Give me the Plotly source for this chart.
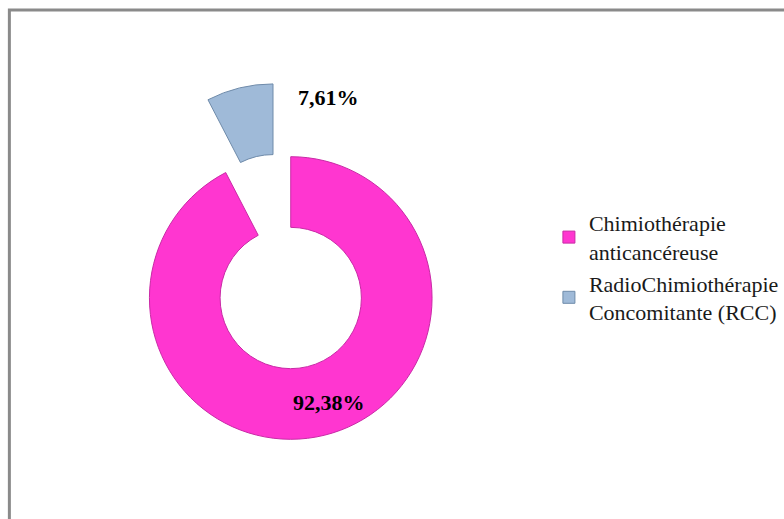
import plotly.graph_objects as go

# Treatment categories and their shares (%)
labels = ["Chimiothérapie<br>anticancéreuse", "RadioChimiothérapie<br>Concomitante (RCC)"]
values = [92.38, 7.61]
colors = ["#FF36D0", "#9FBAD8"]
edge_colors = ["#C92AA6", "#6F8BAA"]
pulls = [0, 0.53]

W, H = 784, 519
serif = "Liberation Serif, Times New Roman, serif"


def pct(v):
    return f"{v:.2f}".replace(".", ",") + "%"


fig = go.Figure(
    go.Pie(
        labels=labels,
        values=values,
        hole=0.5,
        sort=False,
        direction="clockwise",
        rotation=0,
        pull=pulls,
        textinfo="none",
        hoverinfo="label+percent",
        marker=dict(colors=colors, line=dict(color=edge_colors, width=1)),
        domain=dict(x=[75.5 / W, 513.5 / W], y=[2 / H, 440 / H]),
    )
)

# Percentage labels, written from the values above
label_pos = [(333, 402), (333, 97)]
for v, (px, py) in zip(values, label_pos):
    fig.add_annotation(
        x=px / W, y=1 - py / H, xref="paper", yref="paper",
        text=f"<b>{pct(v)}</b>", showarrow=False,
        font=dict(family=serif, size=22, color="black"),
        xanchor="center", yanchor="middle",
    )

# Chart frame (top and left edges visible)
fig.add_shape(
    type="rect", xref="paper", yref="paper",
    x0=9.5 / W, x1=1.05, y0=-0.05, y1=1 - 10 / H,
    line=dict(color="#8A8A8A", width=3), fillcolor="rgba(0,0,0,0)",
    layer="above",
)

fig.update_layout(
    width=W, height=H,
    margin=dict(l=0, r=0, t=0, b=0),
    paper_bgcolor="white", plot_bgcolor="white",
    separators=", ",
    showlegend=True,
    legend=dict(
        x=556 / W, y=1 - 202 / H, xanchor="left", yanchor="top",
        font=dict(family=serif, size=22, color="#1a1a1a"),
        bgcolor="rgba(0,0,0,0)", traceorder="normal",
    ),
)

fig.write_html("out.html", config={"displayModeBar": False})
